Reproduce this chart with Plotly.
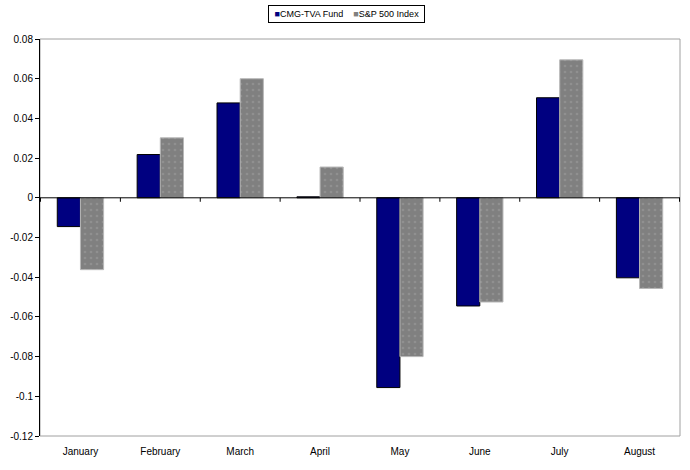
import plotly.graph_objects as go

months = ["January", "February", "March", "April", "May", "June", "July", "August"]
cmg = [-0.0145, 0.0218, 0.0478, 0.0005, -0.0956, -0.0545, 0.0504, -0.0403]
sp500 = [-0.0362, 0.0302, 0.0600, 0.0155, -0.0800, -0.0525, 0.0695, -0.0457]
series_names = ["CMG-TVA Fund", "S&P 500 Index"]
series_colors = ["#000080", "#808080"]
ytick_vals = [0.08, 0.06, 0.04, 0.02, 0, -0.02, -0.04, -0.06, -0.08, -0.1, -0.12]
ytick_text = ["0.08", "0.06", "0.04", "0.02", "0", "-0.02", "-0.04", "-0.06", "-0.08", "-0.1", "-0.12"]

fig = go.Figure()
fig.add_trace(go.Bar(
    name=series_names[0], x=months, y=cmg, showlegend=False,
    marker=dict(color=series_colors[0], line=dict(color="#000000", width=1)),
))
fig.add_trace(go.Bar(
    name=series_names[1], x=months, y=sp500, showlegend=False,
    marker=dict(color=series_colors[1], line=dict(color="#b8b8b8", width=1),
                pattern=dict(shape=".", fgcolor="#a0a0a0", bgcolor="#808080", size=6, solidity=0.15)),
))

shapes = [dict(type="rect", xref="paper", yref="paper", x0=0, x1=1, y0=0, y1=1,
               line=dict(color="#a0a0a0", width=1), layer="below")]
shapes.append(dict(type="line", xref="paper", yref="y", x0=0, x1=1, y0=0, y1=0,
                   line=dict(color="#000000", width=1)))
for i in range(len(months) + 1):
    shapes.append(dict(type="line", xref="x", yref="y", x0=i - 0.5, x1=i - 0.5, y0=0, y1=-0.002,
                       line=dict(color="#000000", width=1)))

legend_text = "&nbsp;" + "&nbsp;&nbsp;&nbsp;&nbsp;".join(
    f"<span style='color:{c}'>■</span>{n}" for n, c in zip(series_names, series_colors)
) + "&nbsp;"

fig.update_layout(
    width=690, height=470,
    margin=dict(l=40, r=10, t=39, b=34, autoexpand=False),
    paper_bgcolor="white", plot_bgcolor="white",
    barmode="group", bargap=0.42, bargroupgap=0,
    font=dict(family="Arial, Liberation Sans, sans-serif", size=10, color="#000000"),
    showlegend=False,
    annotations=[dict(text=legend_text, xref="paper", yref="paper", x=(346 - 40) / 640, y=1,
                      xanchor="center", yanchor="bottom", yshift=16, showarrow=False,
                      font=dict(size=9, color="#000000"),
                      bordercolor="#000000", borderwidth=1, borderpad=3, bgcolor="white")],
    xaxis=dict(showline=False, ticks="", showgrid=False, zeroline=False,
               ticklabelstandoff=8, tickfont=dict(size=10)),
    yaxis=dict(range=[-0.12, 0.08], tickvals=ytick_vals, ticktext=ytick_text,
               showline=True, linecolor="#000000", linewidth=1, ticks="outside",
               ticklen=4, tickcolor="#000000", showgrid=False, zeroline=False,
               tickfont=dict(size=10)),
    shapes=shapes,
)
fig.write_html("out.html")
